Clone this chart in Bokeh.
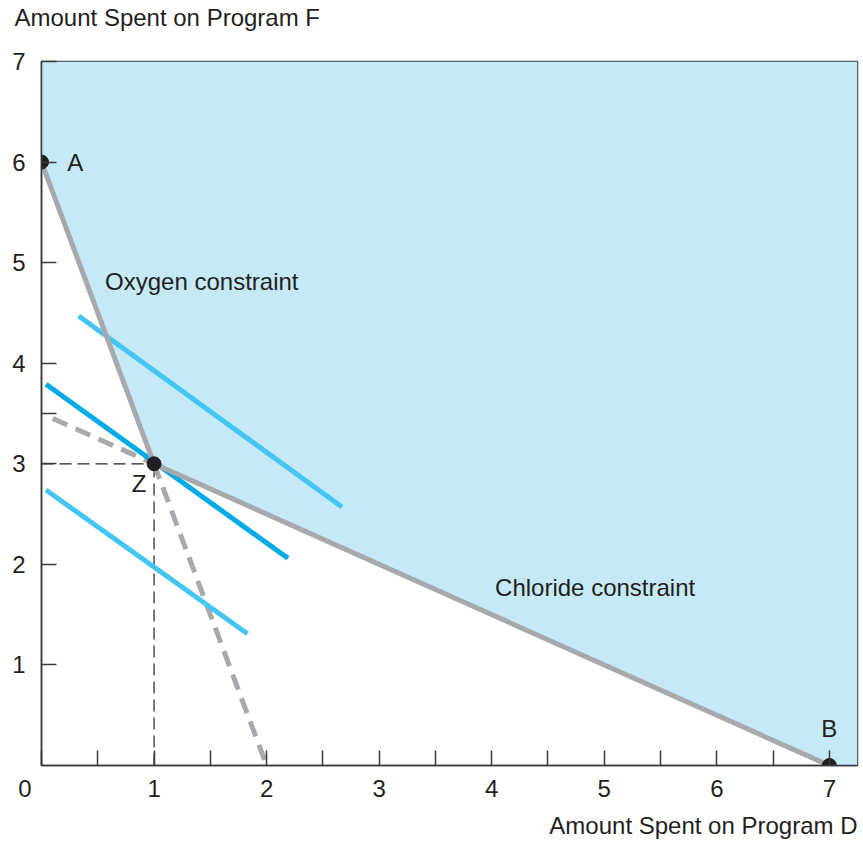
from bokeh.plotting import figure
from bokeh.models import Label, FixedTicker, Range1d, Title
from bokeh.embed import file_html
from bokeh.resources import INLINE

# ---- data ----
x_ticks = [0, 0.5, 1, 1.5, 2, 2.5, 3, 3.5, 4, 4.5, 5, 5.5, 6, 6.5, 7]
x_labels = [0, 1, 2, 3, 4, 5, 6, 7]
y_ticks = [1, 2, 3, 3.5, 4, 5, 6, 7]
y_labels = [1, 2, 3, 4, 5, 6, 7]

pt_names = ["A", "Z", "B"]
pt_x = [0, 1, 7]
pt_y = [6, 3, 0]

# constraint extensions (dashed)
chl_ext_x = [0.1, 1]
chl_ext_y = [3.45, 3]
oxy_ext_x = [1, 2]
oxy_ext_y = [3, 0]

# iso-cost lines (x0, y0, x1, y1)
iso_x0 = [0.33, 0.04, 0.04]
iso_y0 = [4.47, 3.79, 2.74]
iso_x1 = [2.67, 2.19, 1.83]
iso_y1 = [2.57, 2.06, 1.31]
iso_col = ["#45C5F2", "#00AAE7", "#45C5F2"]

X_MAX = 7.25
Y_MAX = 7

FONT = "Liberation Sans"
FS = "24px"
TXT = "#231F20"

p = figure(width=863, height=845, output_backend="svg", toolbar_location=None,
           x_range=Range1d(0, X_MAX), y_range=Range1d(0, Y_MAX),
           min_border_left=41, min_border_right=6, min_border_top=61,
           min_border_bottom=80)
p.grid.visible = False
p.background_fill_color = "white"
p.outline_line_color = "#3A3A3A"
p.outline_line_width = 1.5

# feasible region
p.patch([pt_x[0], pt_x[1], pt_x[2], X_MAX, X_MAX, 0],
        [pt_y[0], pt_y[1], pt_y[2], 0, Y_MAX, Y_MAX],
        fill_color="#C6E9F8", line_color=None)

# black dashed guides to Z
p.line([0, pt_x[1]], [pt_y[1], pt_y[1]], line_color="#231F20", line_width=1.2, line_dash="12 6")
p.line([pt_x[1], pt_x[1]], [0, pt_y[1]], line_color="#231F20", line_width=1.2, line_dash="12 6")

# dashed extensions
p.line(chl_ext_x, chl_ext_y, line_color="#A7A9AC", line_width=5, line_dash="16 9")
p.line(oxy_ext_x, oxy_ext_y, line_color="#A7A9AC", line_width=5, line_dash="16 9")

# iso lines
p.segment(x0=iso_x0, y0=iso_y0, x1=iso_x1, y1=iso_y1, line_color=iso_col, line_width=5)

# constraint boundary
p.line(pt_x, pt_y, line_color="#A7A9AC", line_width=5)

# points
p.scatter(pt_x, pt_y, size=14, fill_color="#231F20", line_color="#231F20")

# axes
for ax in (p.xaxis[0], p.yaxis[0]):
    ax.axis_line_color = "#3A3A3A"
    ax.axis_line_width = 1.5
    ax.major_tick_line_color = "#3A3A3A"
    ax.major_tick_line_width = 1.5
    ax.major_tick_in = 15
    ax.major_tick_out = 0
    ax.minor_tick_line_color = None
    ax.major_label_text_font = FONT
    ax.major_label_text_font_size = FS
    ax.major_label_text_color = TXT

def xlab(t):
    if t == 0:
        return "0" + "\u00a0" * 5
    return str(int(t)) if t in x_labels else ""

p.xaxis.ticker = FixedTicker(ticks=x_ticks)
p.xaxis.major_label_overrides = {t: xlab(t) for t in x_ticks}
p.xaxis.major_label_standoff = 9
p.yaxis.ticker = FixedTicker(ticks=y_ticks)
p.yaxis.major_label_overrides = {t: (str(int(t)) if t in y_labels else "") for t in y_ticks}
p.yaxis.major_label_standoff = 16

p.add_layout(Title(text="Amount Spent on Program F", align="left", offset=-27,
                   standoff=0, padding=dict(left=0, right=0, top=0, bottom=31),
                   text_font=FONT, text_font_size=FS,
                   text_font_style="normal", text_color=TXT), "above")
p.add_layout(Title(text="Amount Spent on Program D", align="right",
                   standoff=11, text_font=FONT, text_font_size=FS,
                   text_font_style="normal", text_color=TXT), "below")

def lab(x, y, t, align="left"):
    p.add_layout(Label(x=x, y=y, text=t, text_font=FONT, text_font_size=FS,
                       text_color=TXT, text_align=align, text_baseline="middle"))

lab(0.228, 6.0, "A")
lab(0.867, 2.80, "Z", "center")
lab(7.0, 0.37, "B", "center")
lab(0.565, 4.81, "Oxygen constraint")
lab(4.03, 1.77, "Chloride constraint")

open("out.html", "w").write(file_html(p, INLINE))
